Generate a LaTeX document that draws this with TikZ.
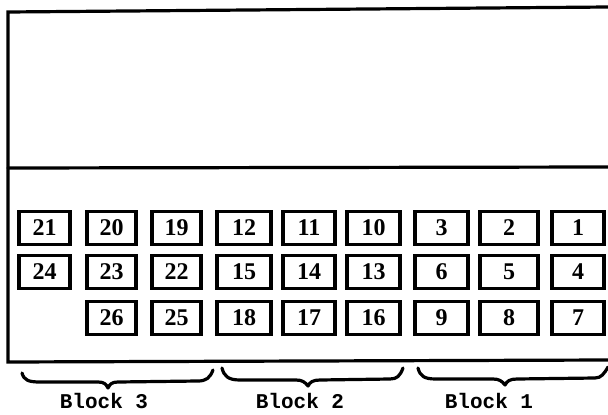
\documentclass[tikz,border=0pt]{standalone}
\usepackage{fontspec}
\setmainfont{Liberation Serif}
\newfontfamily\blockfont{Liberation Mono}
\begin{document}
\begin{tikzpicture}[x=1pt,y=-1pt,
  frame/.style={line width=3.2pt, line cap=round},
  cell/.style={draw, line width=3.4pt, inner sep=0pt, minimum height=33pt,
    font=\bfseries\fontsize{24}{24}\selectfont},
  bracepath/.style={line width=3.2pt, line cap=round, line join=round},
  blocklabel/.style={font=\blockfont\bfseries\fontsize{21}{21}\selectfont, inner sep=1pt}]
\useasboundingbox (0,0) rectangle (608,415);
% outer frame
\coordinate (tl) at (8,12);
\coordinate (tr) at (608,7);
\coordinate (ml) at (8,168);
\coordinate (mr) at (608,167);
\coordinate (bl) at (8,362);
\coordinate (br) at (608,360);
\draw[frame] (tr) -- (tl) -- (bl) -- (br);
\draw[frame] (ml) -- (mr);
% cells: label / x centre / width / y centre
\foreach \lab/\x/\w/\y in {
  21/44.5/51/228, 20/111.5/49/228, 19/176.5/49/228, 12/244/54/228, 11/309/52/228, 10/373.5/53/228, 3/441.5/53/228, 2/509/58/228, 1/578/52/228,
  24/44.5/51/272, 23/111.5/49/272, 22/176.5/49/272, 15/244/54/272, 14/309/52/272, 13/373.5/53/272, 6/441.5/53/272, 5/509/58/272, 4/578/52/272,
  26/111.5/49/318, 25/176.5/49/318, 18/244/54/318, 17/309/52/318, 16/373.5/53/318, 9/441.5/53/318, 8/509/58/318, 7/578/52/318}
  \node[cell, minimum width=\w pt] (c\lab) at (\x,\y) {\lab};
% braces
\draw[bracepath] (22,373) .. controls (24,380) and (28,382) .. (40,382)
  -- (98,382) .. controls (104,382) and (106,384) .. (108,388)
  .. controls (110,384) and (112,382) .. (118,382)
  -- (198,381) .. controls (206,381) and (210,378) .. (213,370);
\draw[bracepath] (222,368) .. controls (224,376) and (228,380) .. (240,380)
  -- (296,380) .. controls (302,380) and (305,382) .. (308,386)
  .. controls (310,382) and (313,380) .. (320,380)
  -- (390,379) .. controls (397,379) and (400,376) .. (403,368);
\draw[bracepath] (418,368) .. controls (420,376) and (424,379) .. (436,379)
  -- (493,379) .. controls (499,379) and (502,381) .. (505,385)
  .. controls (507,381) and (510,379) .. (517,379)
  -- (595,378) .. controls (601,378) and (604,374) .. (608,367);
% labels
\node[blocklabel] (b3) at (104,401) {Block 3};
\node[blocklabel] (b2) at (300,401) {Block 2};
\node[blocklabel] (b1) at (489,401) {Block 1};
\end{tikzpicture}
\end{document}
